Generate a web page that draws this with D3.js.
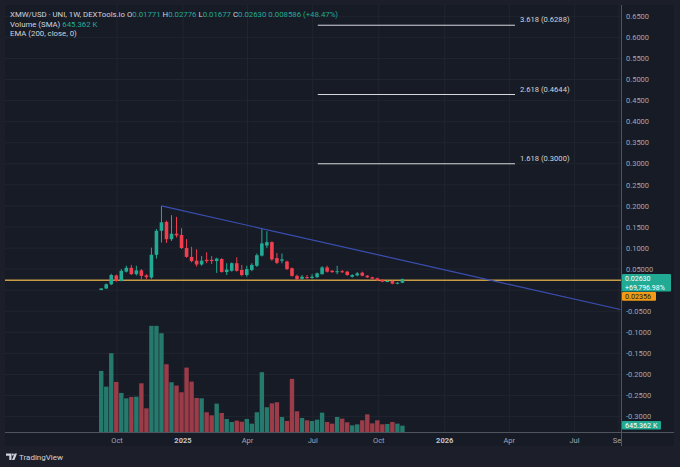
<!DOCTYPE html>
<html>
<head>
<meta charset="utf-8">
<script src="https://cdn.jsdelivr.net/npm/d3@7"></script>
<style>
  html, body { margin: 0; padding: 0; background: #1c1f29; }
  svg { display: block; font-family: Roboto, "Liberation Sans", sans-serif; }
</style>
</head>
<body>
<div id="chart"></div>
<script>
// weekly candles, XMW/USD
const weeks = [
  "2024-09-09","2024-09-16","2024-09-23","2024-09-30","2024-10-07","2024-10-14","2024-10-21","2024-10-28",
  "2024-11-04","2024-11-11","2024-11-18","2024-11-25","2024-12-02","2024-12-09","2024-12-16","2024-12-23",
  "2024-12-30","2025-01-06","2025-01-13","2025-01-20","2025-01-27","2025-02-03","2025-02-10","2025-02-17",
  "2025-02-24","2025-03-03","2025-03-10","2025-03-17","2025-03-24","2025-03-31","2025-04-07","2025-04-14",
  "2025-04-21","2025-04-28","2025-05-05","2025-05-12","2025-05-19","2025-05-26","2025-06-02","2025-06-09",
  "2025-06-16","2025-06-23","2025-06-30","2025-07-07","2025-07-14","2025-07-21","2025-07-28","2025-08-04",
  "2025-08-11","2025-08-18","2025-08-25","2025-09-01","2025-09-08","2025-09-15","2025-09-22","2025-09-29",
  "2025-10-06","2025-10-13","2025-10-20","2025-10-27","2025-11-03"
];
const opens = [
  0.0003,0.004,0.014,0.035,0.022,0.044,0.053,0.038,0.047,0.035,0.030,0.084,0.141,0.162,0.121,0.134,
  0.131,0.100,0.079,0.070,0.061,0.072,0.072,0.069,0.074,0.043,0.046,0.064,0.048,0.036,0.048,0.058,
  0.082,0.106,0.114,0.076,0.070,0.068,0.052,0.034,0.027,0.031,0.029,0.031,0.038,0.054,0.046,0.043,
  0.045,0.044,0.032,0.035,0.0415,0.0344,0.0306,0.0282,0.0242,0.020,0.0218,0.0155,0.01771
];
const highs = [
  0.005,0.016,0.039,0.037,0.050,0.058,0.060,0.058,0.050,0.038,0.101,0.145,0.200,0.165,0.178,0.174,
  0.147,0.121,0.103,0.097,0.081,0.090,0.081,0.077,0.076,0.064,0.066,0.078,0.060,0.058,0.064,0.087,
  0.145,0.140,0.116,0.088,0.087,0.070,0.054,0.037,0.036,0.036,0.038,0.042,0.057,0.058,0.048,0.058,
  0.048,0.046,0.038,0.043,0.044,0.036,0.032,0.030,0.026,0.024,0.023,0.019,0.02776
];
const lows = [
  0.0002,0.003,0.012,0.020,0.021,0.042,0.036,0.035,0.025,0.026,0.027,0.075,0.113,0.112,0.117,0.125,
  0.098,0.077,0.066,0.056,0.058,0.064,0.062,0.041,0.042,0.036,0.044,0.044,0.033,0.032,0.045,0.055,
  0.080,0.100,0.070,0.062,0.064,0.048,0.032,0.024,0.025,0.027,0.027,0.029,0.037,0.042,0.041,0.038,
  0.041,0.034,0.030,0.033,0.033,0.029,0.026,0.022,0.019,0.0188,0.014,0.014,0.01677
];
const closes = [
  0.004,0.014,0.036,0.022,0.046,0.053,0.038,0.047,0.034,0.031,0.084,0.141,0.161,0.121,0.134,0.130,
  0.100,0.079,0.069,0.061,0.070,0.069,0.069,0.075,0.043,0.049,0.064,0.046,0.036,0.050,0.060,0.083,
  0.111,0.114,0.073,0.065,0.073,0.050,0.034,0.026,0.032,0.029,0.032,0.040,0.054,0.044,0.043,0.045,
  0.043,0.036,0.036,0.040,0.0344,0.0306,0.0273,0.0235,0.0202,0.0218,0.0155,0.01771,0.02630
];
// volume in thousands
const volumes = [
  6220,4620,8020,5100,3980,3430,3570,3600,4960,2410,10810,10810,10060,6900,5070,4730,
  4050,6560,5130,3470,3430,2010,1700,2890,1940,1330,1020,1160,1050,1330,850,2010,
  6090,2520,2920,3030,1530,1120,5410,2110,1430,1190,1120,1260,1970,1020,850,1530,
  1360,990,680,780,1190,1800,880,1190,780,820,1020,850,645.362
];

const priceTicks = [0.65,0.6,0.55,0.5,0.45,0.4,0.35,0.3,0.25,0.2,0.15,0.1,0.05,0,-0.05,-0.1,-0.15,-0.2,-0.25,-0.3];
const priceTickLabels = ["0.6500","0.6000","0.5500","0.5000","0.4500","0.4000","0.3500","0.3000","0.2500","0.2000",
  "0.1500","0.1000","0.05000","","-0.0500","-0.1000","-0.1500","-0.2000","-0.2500","-0.3000"];
const timeTicks = ["2024-10-01","2025-01-01","2025-04-01","2025-07-01","2025-10-01","2026-01-01","2026-04-01","2026-07-01","2026-09-01"];
const timeTickLabels = ["Oct","2025","Apr","Jul","Oct","2026","Apr","Jul","Sep"];

const fibLevels = [0.3000, 0.4644, 0.6288];
const fibLabels = ["1.618 (0.3000)", "2.618 (0.4644)", "3.618 (0.6288)"];
const fibDates = ["2025-07-08", "2026-04-09"];

const trendDates = ["2024-12-02", "2026-09-03"];
const trendPrices = [0.200, -0.0458];
const emaLinePrice = 0.02356;

const width = 680, height = 467;
const plot = {left: 5, top: 5, right: 621, bottom: 432};

const parse = d3.timeParse("%Y-%m-%d");
const data = weeks.map((w, i) => ({
  date: parse(w), o: opens[i], h: highs[i], l: lows[i], c: closes[i], v: volumes[i]
}));

const upColor = "#22ab94", downColor = "#f23f4f";
const upVol = "#267a6d", downVol = "#9c3c49";

const xScale = d3.scaleTime()
  .domain([parse("2024-10-01"), parse("2026-09-01")])
  .range([117, 619]);
const yScale = d3.scaleLinear()
  .domain([-0.3, 0.65])
  .range([416.6, 16.3]);
const vScale = d3.scaleLinear()
  .domain([0, 11000])
  .range([plot.bottom, plot.bottom - 108]);

const svg = d3.select("#chart").append("svg")
  .attr("width", width)
  .attr("height", height);

svg.append("rect").attr("width", width).attr("height", height).attr("fill", "#1c1f29");
svg.append("rect")
  .attr("x", plot.left).attr("y", plot.top)
  .attr("width", 674 - plot.left).attr("height", 446 - plot.top)
  .attr("fill", "#171b26");

svg.append("clipPath").attr("id", "plotClip")
  .append("rect")
  .attr("x", plot.left).attr("y", plot.top)
  .attr("width", plot.right - plot.left).attr("height", plot.bottom - plot.top);

const grid = svg.append("g").attr("clip-path", "url(#plotClip)");
grid.selectAll("line.h").data(priceTicks).enter().append("line")
  .attr("x1", plot.left).attr("x2", plot.right)
  .attr("y1", d => yScale(d)).attr("y2", d => yScale(d))
  .attr("stroke", "#21252f").attr("stroke-width", 1);
grid.selectAll("line.v").data(timeTicks).enter().append("line")
  .attr("x1", d => xScale(parse(d))).attr("x2", d => xScale(parse(d)))
  .attr("y1", plot.top).attr("y2", plot.bottom)
  .attr("stroke", "#21252f").attr("stroke-width", 1);

const main = svg.append("g").attr("clip-path", "url(#plotClip)");

/* volume */
main.selectAll("rect.vol").data(data).enter().append("rect")
  .attr("x", d => xScale(d.date) - 2.2)
  .attr("width", 4.4)
  .attr("y", d => vScale(d.v))
  .attr("height", d => plot.bottom - vScale(d.v))
  .attr("fill", d => d.c >= d.o ? upVol : downVol);

/* horizontal price line */
main.append("line")
  .attr("x1", plot.left).attr("x2", plot.right)
  .attr("y1", yScale(emaLinePrice)).attr("y2", yScale(emaLinePrice))
  .attr("stroke", "#c89b45").attr("stroke-width", 1.4);

/* fib lines */
fibLevels.forEach((lv, i) => {
  main.append("line")
    .attr("x1", xScale(parse(fibDates[0]))).attr("x2", xScale(parse(fibDates[1])))
    .attr("y1", yScale(lv)).attr("y2", yScale(lv))
    .attr("stroke", "#d6d8de").attr("stroke-width", 1);
  main.append("text")
    .attr("x", xScale(parse(fibDates[1])) + 5)
    .attr("y", yScale(lv) - 3)
    .attr("fill", "#d1d4dc")
    .attr("font-size", "7.6px")
    .text(fibLabels[i]);
});

/* candles */
const candles = main.selectAll("g.candle").data(data).enter().append("g");
candles.append("line")
  .attr("x1", d => xScale(d.date)).attr("x2", d => xScale(d.date))
  .attr("y1", d => yScale(d.h)).attr("y2", d => yScale(d.l))
  .attr("stroke", d => d.c >= d.o ? upColor : downColor)
  .attr("stroke-width", 1);
candles.append("rect")
  .attr("x", d => xScale(d.date) - 1.8)
  .attr("width", 3.6)
  .attr("y", d => yScale(Math.max(d.o, d.c)))
  .attr("height", d => Math.max(1, Math.abs(yScale(d.o) - yScale(d.c))))
  .attr("fill", d => d.c >= d.o ? upColor : downColor);

/* trendline */
main.append("line")
  .attr("x1", xScale(parse(trendDates[0]))).attr("y1", yScale(trendPrices[0]))
  .attr("x2", xScale(parse(trendDates[1]))).attr("y2", yScale(trendPrices[1]))
  .attr("stroke", "#3a4fb3").attr("stroke-width", 1.2);

/* axes borders */
svg.append("line")
  .attr("x1", plot.right + 0.5).attr("x2", plot.right + 0.5)
  .attr("y1", plot.top).attr("y2", 446)
  .attr("stroke", "#50545f").attr("stroke-width", 1);
svg.append("line")
  .attr("x1", plot.left).attr("x2", 674)
  .attr("y1", plot.bottom + 0.5).attr("y2", plot.bottom + 0.5)
  .attr("stroke", "#50545f").attr("stroke-width", 1);

/* price axis labels */
svg.append("g").selectAll("text").data(priceTicks).enter().append("text")
  .attr("x", 626)
  .attr("y", d => yScale(d) + 2.7)
  .attr("fill", "#a3a6af")
  .attr("font-size", "7.5px")
  .text((d, i) => priceTickLabels[i]);

/* time axis labels */
const xLab = svg.append("g");
xLab.append("clipPath").attr("id", "xClip")
  .append("rect").attr("x", 0).attr("y", plot.bottom).attr("width", plot.right).attr("height", 20);
xLab.append("g").attr("clip-path", "url(#xClip)")
  .selectAll("text").data(timeTicks).enter().append("text")
  .attr("x", d => xScale(parse(d)))
  .attr("y", 443)
  .attr("text-anchor", "middle")
  .attr("font-size", "7.5px")
  .attr("font-weight", (d, i) => /^\d+$/.test(timeTickLabels[i]) ? "bold" : "normal")
  .attr("fill", (d, i) => /^\d+$/.test(timeTickLabels[i]) ? "#c3c6ce" : "#a3a6af")
  .text((d, i) => timeTickLabels[i]);

/* last price labels */
const last = data[data.length - 1];
const yLast = yScale(last.c);
svg.append("rect").attr("x", 622).attr("y", yLast - 5).attr("width", 49).attr("height", 17.5)
  .attr("rx", 1).attr("fill", upColor);
svg.append("text").attr("x", 625).attr("y", yLast + 2)
  .attr("fill", "#ffffff").attr("font-size", "7px").text(d3.format(".5f")(last.c));
svg.append("text").attr("x", 625).attr("y", yLast + 10.4)
  .attr("fill", "#ffffff").attr("font-size", "7px").text("+69,796.98%");

const yOrange = yLast + 13;
svg.append("rect").attr("x", 622).attr("y", yOrange).attr("width", 34).attr("height", 8.6)
  .attr("rx", 1).attr("fill", "#f59a16");
svg.append("text").attr("x", 625).attr("y", yOrange + 6.8).attr("fill", "#1a1a1a")
  .attr("font-size", "7.2px").text(d3.format(".5f")(emaLinePrice));

svg.append("rect").attr("x", 622).attr("y", 421).attr("width", 39).attr("height", 8.6)
  .attr("rx", 1).attr("fill", upColor);
svg.append("text").attr("x", 625).attr("y", 427.8).attr("fill", "#ffffff")
  .attr("font-size", "7.2px").text("645.362 K");

/* legend */
const legend = svg.append("g").attr("font-size", "7.8px");
const l1 = legend.append("text").attr("x", 10).attr("y", 17).attr("fill", "#d1d4dc");
l1.append("tspan").text("XMW/USD · UNI, 1W, DEXTools.io ");
[["O", last.o], ["H", last.h], ["L", last.l], ["C", last.c]].forEach(([k, v]) => {
  l1.append("tspan").attr("fill", "#d1d4dc").text(" " + k);
  l1.append("tspan").attr("fill", upColor).text(d3.format(".5f")(v));
});
l1.append("tspan").attr("fill", upColor).text("  0.008586 (+48.47%)");

const l2 = legend.append("text").attr("x", 10).attr("y", 26.5).attr("fill", "#d1d4dc");
l2.append("tspan").text("Volume (SMA) ");
l2.append("tspan").attr("fill", upColor).text(" 645.362 K");

legend.append("text").attr("x", 10).attr("y", 36).attr("fill", "#d1d4dc").text("EMA (200, close, 0)");

/* footer logo */
const logo = svg.append("g").attr("fill", "#d1d4dc");
logo.append("path").attr("d", "M6,453.5 h5.5 v6.5 h-2.2 v-4.3 h-3.3 z");
logo.append("circle").attr("cx", 12.8).attr("cy", 454.6).attr("r", 1.1);
logo.append("path").attr("d", "M14.6,453.5 h2.4 l-2.6,6.5 h-2.4 z");
svg.append("text").attr("x", 19).attr("y", 460).attr("fill", "#d1d4dc")
  .attr("font-size", "8px").text("TradingView");
</script>
</body>
</html>
